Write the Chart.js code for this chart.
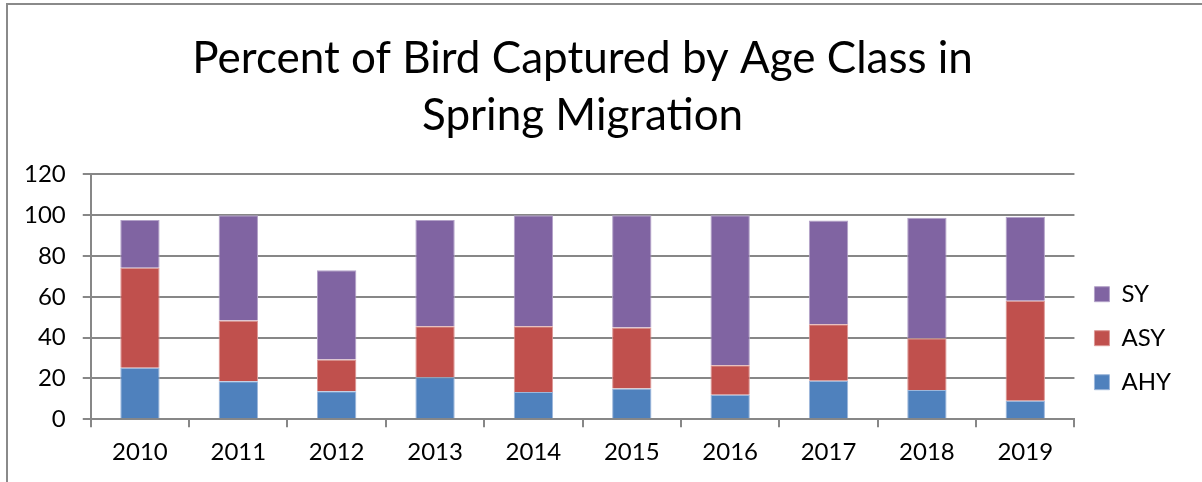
<!DOCTYPE html>
<html>
<head>
<meta charset="utf-8">
<script src="https://cdn.jsdelivr.net/npm/chart.js@4.4.1/dist/chart.umd.min.js"></script>
<style>
  body { margin: 0; background: #fff; }
  #quadro { width: 1202px; height: 482px; position: relative; overflow: hidden; }
  canvas { display: block; position: absolute; left: 0; top: 0; }
  #moldura { position: absolute; left: 6px; top: 3px; width: 1300px; height: 600px;
             border-top: 2px solid #8a8a8a; border-left: 2px solid #8a8a8a; pointer-events: none; }
</style>
</head>
<body>
<div id="quadro"><canvas id="grafico" width="1202" height="482"></canvas><div id="moldura"></div></div>
<script>
const anos = ['2010', '2011', '2012', '2013', '2014', '2015', '2016', '2017', '2018', '2019']
const ahy = [25.2, 18.6, 13.7, 20.6, 13.3, 15.0, 12.0, 18.9, 14.3, 9.1]
const asy = [49.0, 29.8, 15.6, 25.0, 32.3, 29.9, 14.5, 27.7, 25.4, 49.0]
const sy  = [23.5, 51.6, 43.7, 52.1, 54.4, 55.1, 73.5, 50.8, 59.0, 41.1]
const ticksY = [0, 20, 40, 60, 80, 100, 120]

const fonte = 'Lato, "Open Sans", sans-serif'
const corGrade = '#878787'

const g = document.getElementById('grafico')

new Chart(g, {
  type: 'bar',
  data: {
    labels: anos,
    datasets: [
      { label: 'AHY', data: ahy, backgroundColor: '#4F81BD', borderColor: '#9db7db', borderWidth: 1 },
      { label: 'ASY', data: asy, backgroundColor: '#C0504D', borderColor: '#dc9896', borderWidth: 1 },
      { label: 'SY', data: sy, backgroundColor: '#8064A2', borderColor: '#b3a2c8', borderWidth: 1 }
    ]
  },
  options: {
    responsive: false,
    animation: false,
    barPercentage: 0.4,
    categoryPercentage: 1,
    layout: { padding: { left: 7, right: 21, top: 30, bottom: 4 } },
    plugins: {
      title: {
        display: true,
        fullSize: false,
        text: ['Percent of Bird Captured by Age Class in', 'Spring Migration'],
        color: '#000',
        font: { family: fonte, size: 44, weight: 'normal', lineHeight: 1.3 },
        padding: { top: 0, bottom: 30 }
      },
      legend: {
        position: 'right',
        reverse: true,
        title: { display: true, text: ' ', font: { size: 2 }, padding: { top: 0, bottom: 166 } },
        labels: {
          color: '#000',
          font: { family: fonte, size: 24 },
          boxWidth: 15,
          boxHeight: 15,
          padding: 20
        }
      },
      tooltip: { enabled: false }
    },
    scales: {
      x: {
        stacked: true,
        grid: { drawOnChartArea: false, color: corGrade, lineWidth: 2, tickLength: 8 },
        border: { color: corGrade, width: 2 },
        ticks: { color: '#000', font: { family: fonte, size: 24 }, padding: 11 }
      },
      y: {
        stacked: true,
        min: 0,
        max: 120,
        afterBuildTicks: (eixo) => { eixo.ticks = ticksY.map(v => ({ value: v })) },
        grid: { color: corGrade, lineWidth: 2, tickLength: 8 },
        border: { color: corGrade, width: 2 },
        ticks: { color: '#000', font: { family: fonte, size: 24 }, padding: 17 }
      }
    }
  }
})
</script>
</body>
</html>
